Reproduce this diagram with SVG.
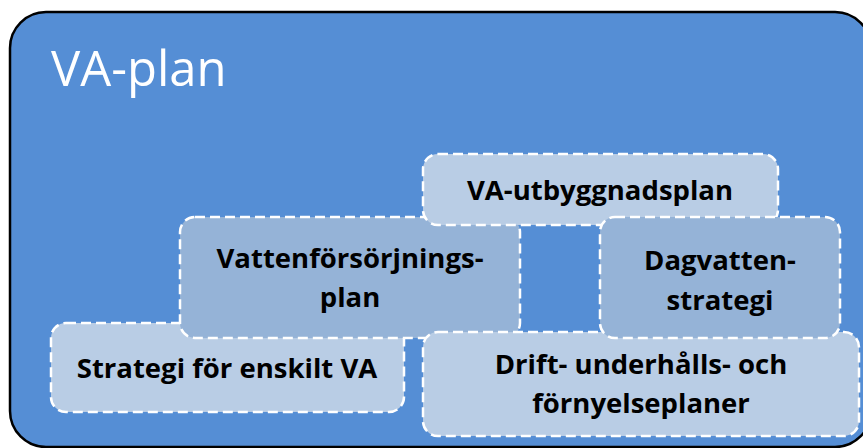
<svg xmlns="http://www.w3.org/2000/svg" width="863" height="448" viewBox="0 0 863 448">
<defs>
<style>
.title{font-family:"Open Sans","Liberation Sans",sans-serif;font-size:49px;fill:#ffffff}
.box{stroke:#ffffff;stroke-width:2.5;stroke-dasharray:10 5}
.light{fill:#b9cde5}
.mid{fill:#95b3d7}
.lbl{font-family:"Open Sans","Liberation Sans",sans-serif;font-weight:bold;font-size:27.5px;fill:#000000;text-anchor:middle}
</style>
</defs>
<rect width="863" height="448" fill="#ffffff"/>
<g id="va-plan">
<rect x="10" y="12" width="861" height="435" rx="36" ry="36" fill="#558ed5" stroke="#000000" stroke-width="2.5"/>
<text class="title" x="51" y="86">VA-plan</text>
</g>
<g id="strategi-enskilt">
<rect class="box light" x="51" y="323" width="353" height="89" rx="15"/>
<text class="lbl" x="227" y="378">Strategi för enskilt VA</text>
</g>
<g id="vattenforsorjning">
<rect class="box mid" x="180" y="217" width="340" height="121" rx="15"/>
<text class="lbl" x="350" y="268">Vattenförsörjnings-</text>
<text class="lbl" x="350" y="307">plan</text>
</g>
<g id="drift">
<rect class="box light" x="423" y="332" width="436" height="104" rx="15"/>
<text class="lbl" x="641" y="374">Drift- underhålls- och</text>
<text class="lbl" x="641" y="413">förnyelseplaner</text>
</g>
<g id="va-utbyggnad">
<rect class="box light" x="423" y="154" width="355" height="71" rx="15"/>
<text class="lbl" x="600" y="200">VA-utbyggnadsplan</text>
</g>
<g id="dagvatten">
<rect class="box mid" x="600" y="217" width="240" height="121" rx="15"/>
<text class="lbl" x="720" y="270">Dagvatten-</text>
<text class="lbl" x="720" y="310">strategi</text>
</g>
<g id="connectors"/>
</svg>
